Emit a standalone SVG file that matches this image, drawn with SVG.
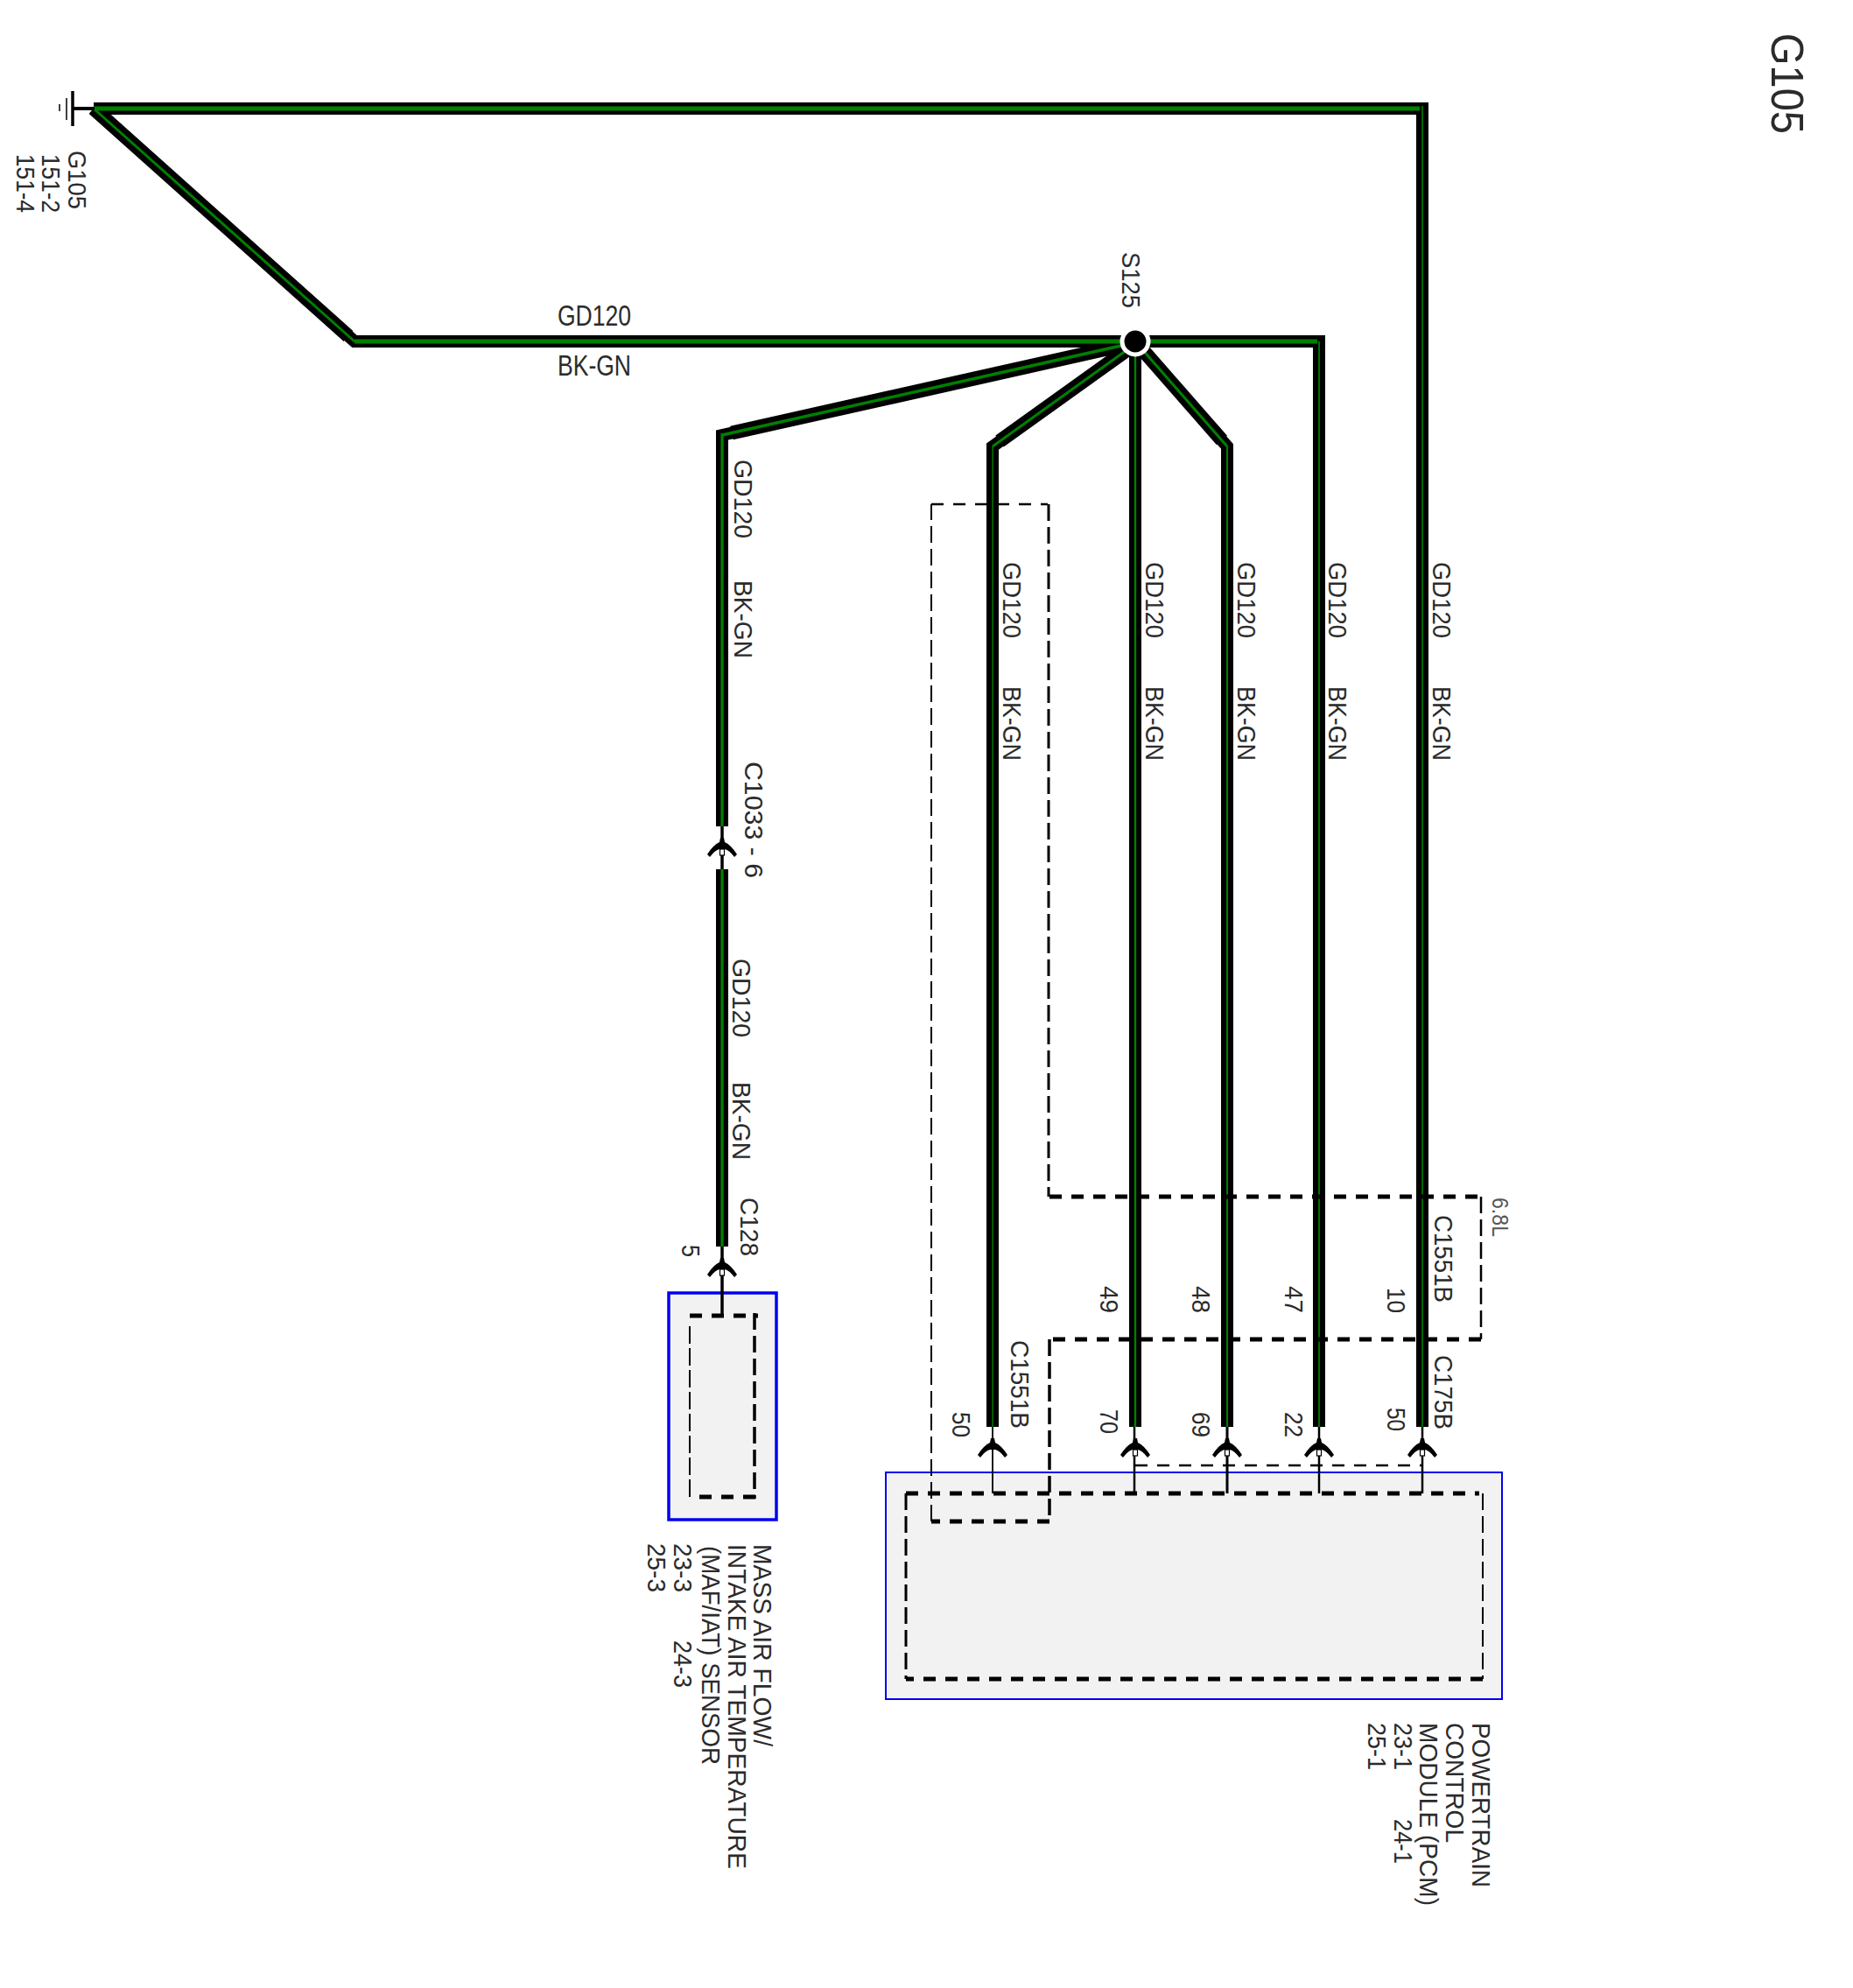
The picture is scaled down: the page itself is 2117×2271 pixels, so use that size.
<svg xmlns="http://www.w3.org/2000/svg" width="2117" height="2271" viewBox="0 0 2117 2271">
<style>
text{font-family:"Liberation Sans",Arial,sans-serif;font-size:30px;fill:#2b2b2b;}
.w{fill:none;stroke:#000;stroke-width:14;stroke-linejoin:miter;stroke-miterlimit:8;}
.d{fill:none;stroke:#000;stroke-width:16;}
.g{fill:none;stroke:#008000;stroke-linejoin:miter;}
.dh{fill:none;stroke:#000;stroke-width:5;stroke-dasharray:14 11;}
.dv{fill:none;stroke:#000;stroke-width:2.5;stroke-dasharray:19 7;}
.dt{fill:none;stroke:#000;stroke-width:2.5;stroke-dasharray:14 11;}
.c{fill:none;stroke:#000;stroke-width:2.5;}
.box{fill:#f2f2f2;stroke:#0000f0;}
</style>
<defs>
<path id="hat" d="M-17,15 Q-10,4 -3,1 L-2,-4 H2 L3,1 Q10,4 17,15 L14,18 Q8,10 3,9 H-3 Q-8,10 -14,18Z" fill="#000"/>
<g id="pin"><rect x="-2.5" y="9" width="5" height="7" fill="#fff" stroke="#000" stroke-width="1.2"/></g>
</defs>
<rect width="2117" height="2271" fill="#fff"/>
<g id="sensor-node">
<rect class="box" x="764" y="1477" width="123" height="259" stroke-width="3.5"/>
<path class="dh" d="M788,1503H866"/>
<path class="dh" d="M863,1710H788"/>
<path class="dv" d="M788,1515V1713" style="stroke-width:2;stroke-dasharray:20 5"/>
<path class="dv" d="M862,1500V1712" style="stroke-width:3.5;stroke-dasharray:19 7"/>
<text transform="translate(861,1764) rotate(90)" textLength="231" lengthAdjust="spacingAndGlyphs">MASS AIR FLOW/</text>
<text transform="translate(832,1764) rotate(90)" textLength="371" lengthAdjust="spacingAndGlyphs">INTAKE AIR TEMPERATURE</text>
<text transform="translate(802,1766) rotate(90)" textLength="250" lengthAdjust="spacingAndGlyphs">(MAF/IAT) SENSOR</text>
<text transform="translate(770,1763) rotate(90)" textLength="56" lengthAdjust="spacingAndGlyphs">23-3</text>
<text transform="translate(770,1874) rotate(90)" textLength="54" lengthAdjust="spacingAndGlyphs">24-3</text>
<text transform="translate(740,1763) rotate(90)" textLength="56" lengthAdjust="spacingAndGlyphs">25-3</text>
</g>
<g id="pcm-node">
<rect class="box" x="1012" y="1682" width="704" height="259" stroke-width="2"/>
<path class="dh" d="M1035,1706H1690"/>
<path class="dh" d="M1694,1918H1035"/>
<path class="dv" d="M1694,1706V1918" style="stroke-width:2;stroke-dasharray:19 7"/>
<path class="dv" d="M1035,1706V1918" style="stroke-width:3;stroke-dasharray:19 7"/>
<text transform="translate(1682,1968) rotate(90)" textLength="188" lengthAdjust="spacingAndGlyphs">POWERTRAIN</text>
<text transform="translate(1652,1968) rotate(90)" textLength="137" lengthAdjust="spacingAndGlyphs">CONTROL</text>
<text transform="translate(1622,1968) rotate(90)" textLength="209" lengthAdjust="spacingAndGlyphs">MODULE (PCM)</text>
<text transform="translate(1593,1968) rotate(90)" textLength="54" lengthAdjust="spacingAndGlyphs">23-1</text>
<text transform="translate(1593,2078) rotate(90)" textLength="51" lengthAdjust="spacingAndGlyphs">24-1</text>
<text transform="translate(1563,1968) rotate(90)" textLength="54" lengthAdjust="spacingAndGlyphs">25-1</text>
</g>
<g id="connectors">
<path class="w" d="M107,124H1625V1630"/>
<path class="w" d="M107,124L405,390H1507V1630"/>
<path class="d" d="M107,124L398,384"/>
<path class="w" d="M825,944V497L1285,394"/>
<path class="d" d="M836,494.500L1285,394"/>
<path class="w" d="M1134,1630V510L1290,398"/>
<path class="d" d="M1142,504L1290,398"/>
<path class="w" d="M1297,390V1630"/>
<path class="w" d="M1402,1630V510L1304,398"/>
<path class="d" d="M1396,503L1304,398"/>
<path class="w" d="M825,993V1424"/>
<path class="g" stroke-width="5" d="M107,124H1622"/>
<path class="g" stroke-width="1.6" d="M1625,121V1630"/>
<path class="g" stroke-width="3" d="M107,124L405,390"/>
<path class="g" stroke-width="5" d="M405,390H1505"/>
<path class="g" stroke-width="1.8" d="M1507,390V1630"/>
<path class="g" stroke-width="3.5" d="M825,497L1285,394"/>
<path class="g" stroke-width="3.2" d="M825,495V944"/>
<path class="g" stroke-width="3.2" d="M825,993V1424"/>
<path class="g" stroke-width="3" d="M1134,510L1290,398"/>
<path class="g" stroke-width="1.4" d="M1134,510V1630"/>
<path class="g" stroke-width="2.4" d="M1297,390V1630"/>
<path class="g" stroke-width="3" d="M1402,510L1304,398"/>
<path class="g" stroke-width="2" d="M1402,510V1630"/>
<path class="c" style="stroke-width:3.5" d="M825,944V993"/>
<path class="c" style="stroke-width:3.5" d="M825,1424V1503"/>
<path class="c" style="stroke-width:1.8" d="M1134,1630V1706"/>
<path class="c" d="M1296,1630V1706"/>
<path class="c" style="stroke-width:3" d="M1402,1630V1706"/>
<path class="c" d="M1507,1630V1706"/>
<path class="c" d="M1625,1630V1706"/>
<use href="#hat" x="825" y="961"/><use href="#pin" x="825" y="961"/>
<use href="#hat" x="825" y="1441"/><use href="#pin" x="825" y="1441"/>
<use href="#hat" x="1134" y="1647"/>
<use href="#hat" x="1297" y="1647"/><use href="#pin" x="1297" y="1647"/>
<use href="#hat" x="1402" y="1647"/><use href="#pin" x="1402" y="1647"/>
<use href="#hat" x="1507" y="1647"/><use href="#pin" x="1507" y="1647"/>
<use href="#hat" x="1625" y="1647"/><use href="#pin" x="1625" y="1647"/>
<path class="dt" d="M1297,1674H1625"/>
<path class="dh" d="M1199,1367H1692"/>
<path class="dh" d="M1692,1530H1199"/>
<path class="dh" d="M1199,1738H1064"/>
<path class="dv" d="M1692,1367V1530"/>
<path class="dv" d="M1199,1530V1738" style="stroke-width:3.5"/>
<path class="dv" d="M1198,576V1367" style="stroke-width:3"/>
<path class="dt" d="M1064,576H1197"/>
<path class="dv" d="M1064,1738V576" style="stroke-width:2"/>
</g>
<g id="ground-g105">
<path d="M83,104V144" stroke="#000" stroke-width="3.5"/>
<path d="M76,112V137" stroke="#000" stroke-width="1.5"/>
<path d="M68,119V127" stroke="#000" stroke-width="1.5"/>
<path d="M83,124H108" stroke="#000" stroke-width="4"/>
<text transform="translate(78,172) rotate(90)" textLength="67" lengthAdjust="spacingAndGlyphs">G105</text>
<text transform="translate(48,176) rotate(90)" textLength="67" lengthAdjust="spacingAndGlyphs">151-2</text>
<text transform="translate(19,176) rotate(90)" textLength="67" lengthAdjust="spacingAndGlyphs">151-4</text>
</g>
<g id="splice-s125">
<circle cx="1297" cy="390" r="15" fill="#000" stroke="#fff" stroke-width="5"/>
<text transform="translate(1282,288) rotate(90)" textLength="64" lengthAdjust="spacingAndGlyphs">S125</text>
</g>
<g id="labels">
<text transform="translate(2024,38) rotate(90)" style="font-size:52px" textLength="115" lengthAdjust="spacingAndGlyphs">G105</text>
<text x="637" y="372" style="font-size:33px" textLength="84" lengthAdjust="spacingAndGlyphs">GD120</text>
<text x="637" y="429" style="font-size:33px" textLength="84" lengthAdjust="spacingAndGlyphs">BK-GN</text>
<text transform="translate(839,525) rotate(90)" textLength="90" lengthAdjust="spacingAndGlyphs">GD120</text>
<text transform="translate(839,663) rotate(90)" textLength="89" lengthAdjust="spacingAndGlyphs">BK-GN</text>
<text transform="translate(851,870) rotate(90)" textLength="133" lengthAdjust="spacingAndGlyphs">C1033 - 6</text>
<text transform="translate(837,1095) rotate(90)" textLength="90" lengthAdjust="spacingAndGlyphs">GD120</text>
<text transform="translate(837,1236) rotate(90)" textLength="89" lengthAdjust="spacingAndGlyphs">BK-GN</text>
<text transform="translate(846,1368) rotate(90)" textLength="67" lengthAdjust="spacingAndGlyphs">C128</text>
<text transform="translate(779,1422) rotate(90)" textLength="14" lengthAdjust="spacingAndGlyphs">5</text>
<text transform="translate(1146,642) rotate(90)" textLength="87" lengthAdjust="spacingAndGlyphs">GD120</text>
<text transform="translate(1146,784) rotate(90)" textLength="85" lengthAdjust="spacingAndGlyphs">BK-GN</text>
<text transform="translate(1309,642) rotate(90)" textLength="87" lengthAdjust="spacingAndGlyphs">GD120</text>
<text transform="translate(1309,784) rotate(90)" textLength="85" lengthAdjust="spacingAndGlyphs">BK-GN</text>
<text transform="translate(1414,642) rotate(90)" textLength="87" lengthAdjust="spacingAndGlyphs">GD120</text>
<text transform="translate(1414,784) rotate(90)" textLength="85" lengthAdjust="spacingAndGlyphs">BK-GN</text>
<text transform="translate(1518,642) rotate(90)" textLength="87" lengthAdjust="spacingAndGlyphs">GD120</text>
<text transform="translate(1518,784) rotate(90)" textLength="85" lengthAdjust="spacingAndGlyphs">BK-GN</text>
<text transform="translate(1637,642) rotate(90)" textLength="87" lengthAdjust="spacingAndGlyphs">GD120</text>
<text transform="translate(1637,784) rotate(90)" textLength="85" lengthAdjust="spacingAndGlyphs">BK-GN</text>
<text transform="translate(1257,1469) rotate(90)" textLength="31" lengthAdjust="spacingAndGlyphs">49</text>
<text transform="translate(1362,1469) rotate(90)" textLength="31" lengthAdjust="spacingAndGlyphs">48</text>
<text transform="translate(1468,1469) rotate(90)" textLength="31" lengthAdjust="spacingAndGlyphs">47</text>
<text transform="translate(1585,1471) rotate(90)" textLength="29" lengthAdjust="spacingAndGlyphs">10</text>
<text transform="translate(1088,1613) rotate(90)" textLength="29" lengthAdjust="spacingAndGlyphs">50</text>
<text transform="translate(1257,1610) rotate(90)" textLength="28" lengthAdjust="spacingAndGlyphs">70</text>
<text transform="translate(1362,1613) rotate(90)" textLength="29" lengthAdjust="spacingAndGlyphs">69</text>
<text transform="translate(1468,1613) rotate(90)" textLength="29" lengthAdjust="spacingAndGlyphs">22</text>
<text transform="translate(1585,1608) rotate(90)" textLength="27" lengthAdjust="spacingAndGlyphs">50</text>
<text transform="translate(1155,1531) rotate(90)" textLength="101" lengthAdjust="spacingAndGlyphs">C1551B</text>
<text transform="translate(1639,1388) rotate(90)" textLength="100" lengthAdjust="spacingAndGlyphs">C1551B</text>
<text transform="translate(1639,1548) rotate(90)" textLength="85" lengthAdjust="spacingAndGlyphs">C175B</text>
<text transform="translate(1705,1368) rotate(90)" style="font-size:25px;fill:#555" textLength="45" lengthAdjust="spacingAndGlyphs">6.8L</text>
</g>
</svg>
